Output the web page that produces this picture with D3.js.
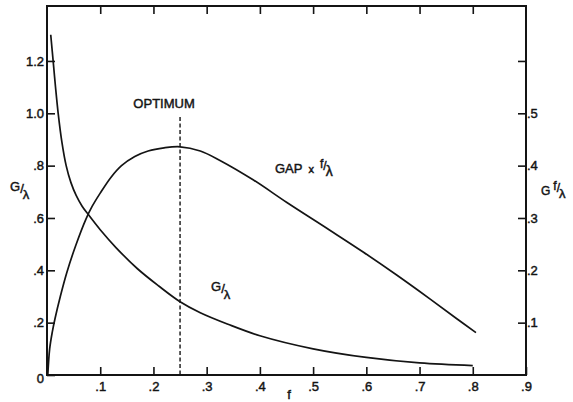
<!DOCTYPE html>
<html>
<head>
<meta charset="utf-8">
<script src="https://cdn.jsdelivr.net/npm/d3@7"></script>
<style>
  html, body { margin: 0; padding: 0; background: #fff; }
  svg { display: block; }
  text { font-family: "Liberation Sans", Arial, sans-serif; fill: #141414; stroke: #141414; stroke-width: 0.45px; }
</style>
</head>
<body>
<script>
// Gain per wavelength, G/λ (left scale), as a function of fill factor f
const gLambdaF = [0.007, 0.012, 0.016, 0.021, 0.028, 0.036, 0.045, 0.055, 0.066, 0.078, 0.10, 0.13, 0.17, 0.21, 0.25, 0.288, 0.34, 0.40, 0.50, 0.60, 0.70, 0.80];
const gLambdaV = [1.30, 1.19, 1.10, 1.00, 0.89, 0.80, 0.735, 0.685, 0.645, 0.612, 0.555, 0.486, 0.406, 0.34, 0.28, 0.238, 0.194, 0.15, 0.10, 0.067, 0.046, 0.036];

// GAP × f/λ (right scale)
const gapF = [0.0015, 0.005, 0.010, 0.015, 0.025, 0.037, 0.054, 0.073, 0.085, 0.10, 0.12, 0.14, 0.165, 0.19, 0.22, 0.25, 0.288, 0.325, 0.388, 0.45, 0.53, 0.594, 0.657, 0.72, 0.77, 0.806];
const gapV = [0, 0.05, 0.0825, 0.1075, 0.15, 0.195, 0.2475, 0.2975, 0.3225, 0.3475, 0.3775, 0.40, 0.4175, 0.428, 0.434, 0.436, 0.428, 0.41, 0.3725, 0.33, 0.2775, 0.235, 0.191, 0.145, 0.1075, 0.081];

// Optimum fill factor
const optimumF = 0.25;

// Axis ticks and their labels
const xTicks = [0.1, 0.2, 0.3, 0.4, 0.5, 0.6, 0.7, 0.8, 0.9];
const xTickLabels = [".1", ".2", ".3", ".4", ".5", ".6", ".7", ".8", ".9"];
const topTicks = [0.1, 0.2, 0.3, 0.4, 0.5, 0.6, 0.7, 0.8];
const leftTicks = [0, 0.2, 0.4, 0.6, 0.8, 1.0, 1.2];
const leftTickLabels = ["0", ".2", ".4", ".6", ".8", "1.0", "1.2"];
const rightTicks = [0.1, 0.2, 0.3, 0.4, 0.5, 0.6];
const rightTickLabels = [".1", ".2", ".3", ".4", ".5", ""];

const W = 573, H = 402;
const plot = { left: 47, right: 526, top: 6, bottom: 375 };

const svg = d3.select("body").append("svg").attr("width", W).attr("height", H);

const x = d3.scaleLinear().domain([0, 0.9]).range([plot.left, plot.right]);
const yL = d3.scaleLinear().domain([0, 1.41]).range([plot.bottom, plot.top]);
const yR = d3.scaleLinear().domain([0, 0.705]).range([plot.bottom, plot.top]);

const fontSize = 13;
const tickLen = 8;

function styleAxis(g) {
  g.select(".domain").remove();
  g.selectAll(".tick line").attr("stroke", "#141414").attr("stroke-width", 1.6);
  g.selectAll(".tick text").style("font-size", fontSize + "px").attr("fill", "#141414").attr("font-family", null);
}

// bottom axis
svg.append("g")
  .attr("transform", `translate(0,${plot.bottom})`)
  .call(d3.axisBottom(x).tickValues(xTicks).tickSize(-tickLen).tickPadding(7)
    .tickFormat((d, i) => xTickLabels[i]))
  .call(styleAxis);

// top axis (ticks only)
svg.append("g")
  .attr("transform", `translate(0,${plot.top})`)
  .call(d3.axisTop(x).tickValues(topTicks).tickSize(-tickLen).tickFormat(""))
  .call(styleAxis);

// left axis
svg.append("g")
  .attr("transform", `translate(${plot.left},0)`)
  .call(d3.axisLeft(yL).tickValues(leftTicks).tickSize(-tickLen).tickPadding(3)
    .tickFormat((d, i) => leftTickLabels[i]))
  .call(styleAxis)
  .call(g => g.selectAll(".tick").filter(d => d === 0).select("text").attr("dy", "0.55em"));

// right axis
svg.append("g")
  .attr("transform", `translate(${plot.right},0)`)
  .call(d3.axisRight(yR).tickValues(rightTicks).tickSize(-tickLen).tickPadding(1)
    .tickFormat((d, i) => rightTickLabels[i]))
  .call(styleAxis);

// frame
svg.append("rect")
  .attr("x", plot.left).attr("y", plot.top)
  .attr("width", plot.right - plot.left).attr("height", plot.bottom - plot.top)
  .attr("fill", "none").attr("stroke", "#141414").attr("stroke-width", 2);

// curves
const gLambdaData = gLambdaF.map((f, i) => [f, gLambdaV[i]]);
const gapData = gapF.map((f, i) => [f, gapV[i]]);

const lineL = d3.line().x(d => x(d[0])).y(d => yL(d[1])).curve(d3.curveCatmullRom.alpha(0.5));
const lineR = d3.line().x(d => x(d[0])).y(d => yR(d[1])).curve(d3.curveCatmullRom.alpha(0.5));

svg.append("path").datum(gLambdaData).attr("d", lineL)
  .attr("fill", "none").attr("stroke", "#141414").attr("stroke-width", 1.7);
svg.append("path").datum(gapData).attr("d", lineR)
  .attr("fill", "none").attr("stroke", "#141414").attr("stroke-width", 1.7);

// optimum marker
svg.append("line")
  .attr("x1", x(optimumF)).attr("x2", x(optimumF))
  .attr("y1", 117).attr("y2", plot.bottom)
  .attr("stroke", "#141414").attr("stroke-width", 1.4).attr("stroke-dasharray", "4,2.5");

svg.append("text").attr("x", x(optimumF) - 16).attr("y", 108)
  .attr("text-anchor", "middle").style("font-size", fontSize + "px").text("OPTIMUM");

// GAP × f/λ label
const gapLabel = svg.append("text").attr("x", 275).attr("y", 173).style("font-size", fontSize + "px");
gapLabel.append("tspan").text("GAP");
gapLabel.append("tspan").attr("dx", 6).style("font-size", "11px").text("x");
gapLabel.append("tspan").attr("dx", 6).attr("dy", -5).style("font-size", "12px").text("f");
gapLabel.append("tspan").attr("dx", 0).attr("dy", 2).style("font-size", "12px").text("/");
gapLabel.append("tspan").attr("dx", -1).attr("dy", 6).style("font-size", "14px").text("λ");

// G/λ label beside the curve
const gLabel = svg.append("text").attr("x", 211).attr("y", 291).style("font-size", "13px");
gLabel.append("tspan").text("G");
gLabel.append("tspan").attr("dx", 0).attr("dy", 2).text("/");
gLabel.append("tspan").attr("dx", -1).attr("dy", 6).text("λ");

// left axis title
const leftTitle = svg.append("text").attr("x", 10).attr("y", 191).style("font-size", "13px");
leftTitle.append("tspan").text("G");
leftTitle.append("tspan").attr("dy", 2).text("/");
leftTitle.append("tspan").attr("dx", -1).attr("dy", 6).text("λ");

// right axis title
const rightTitle = svg.append("text").attr("x", 541).attr("y", 195).style("font-size", "12px");
rightTitle.append("tspan").text("G");
rightTitle.append("tspan").attr("dx", 3).attr("dy", -5).style("font-size", "12px").text("f");
rightTitle.append("tspan").attr("dx", 0).attr("dy", 2).text("/");
rightTitle.append("tspan").attr("dx", -1).attr("dy", 6).style("font-size", "13px").text("λ");

// x axis title
svg.append("text").attr("x", 289).attr("y", 399).attr("text-anchor", "middle")
  .style("font-size", fontSize + "px").text("f");
</script>
</body>
</html>
